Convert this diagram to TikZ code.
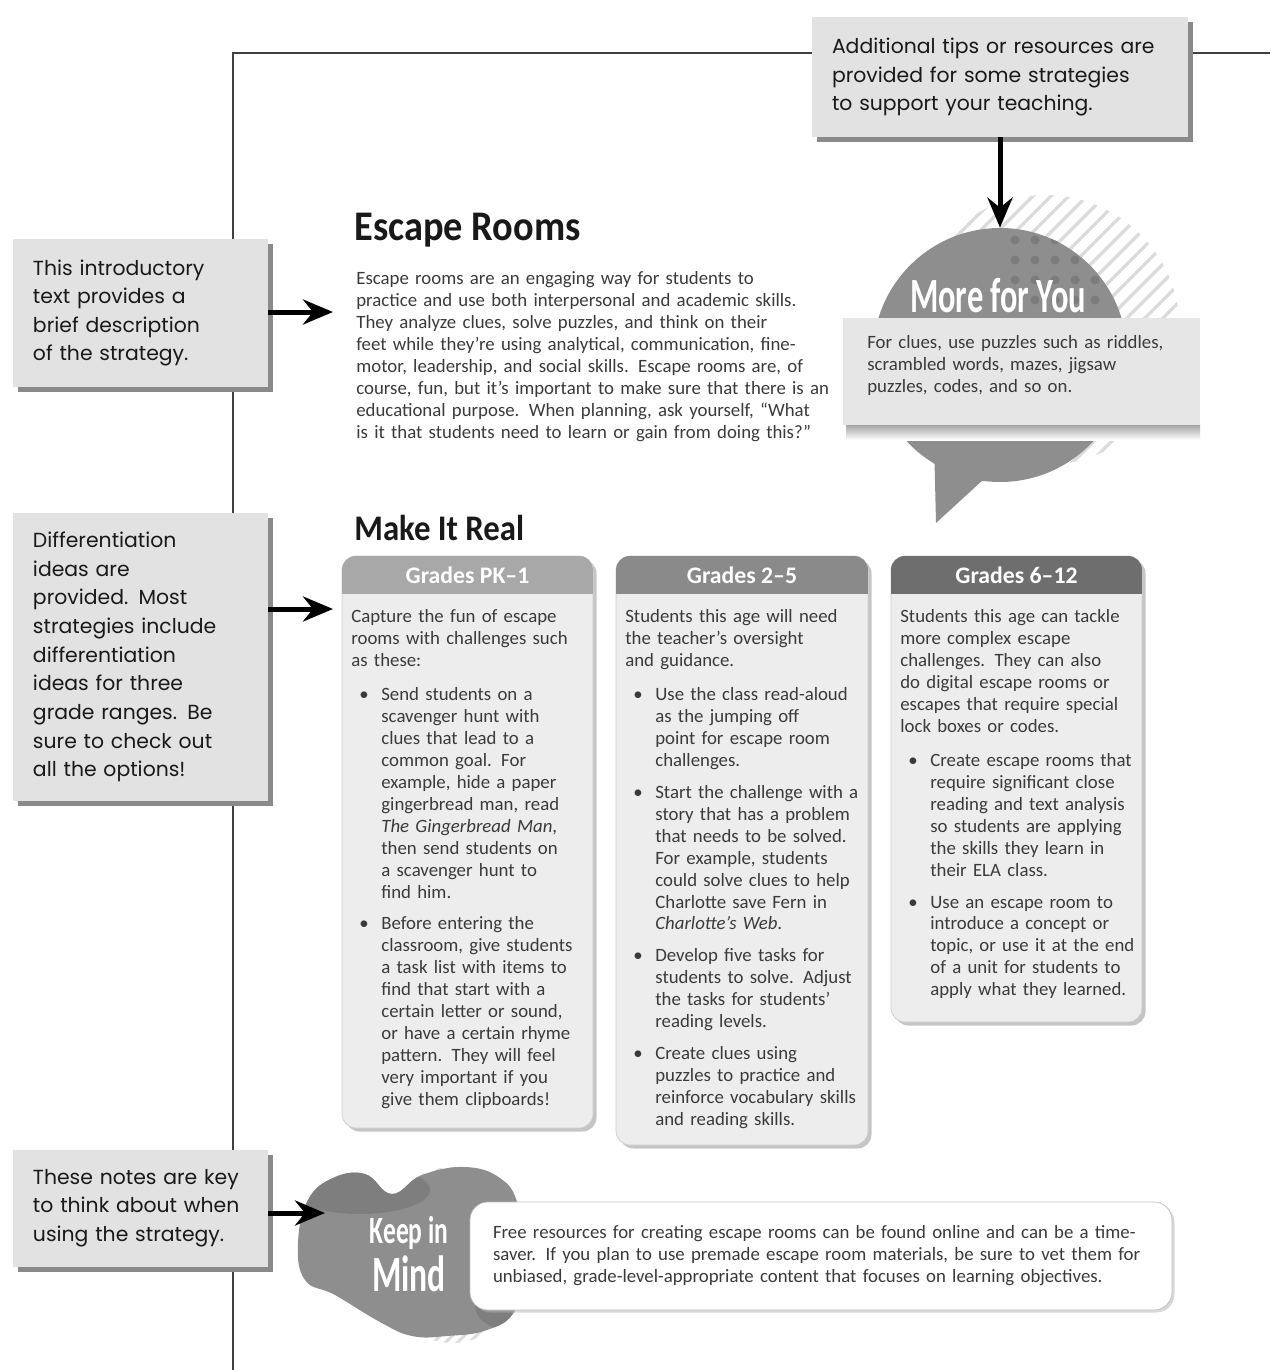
\documentclass[tikz,border=0pt]{standalone}
\usepackage{fontspec}
\usepackage{enumitem}
\setmainfont{Carlito}
\newfontfamily\notefont{Poppins}
\newfontfamily\titlefont[FakeStretch=0.91]{Carlito}
\newfontfamily\bannerfont[FakeStretch=0.66]{Carlito}
\usetikzlibrary{arrows.meta,positioning,shadows}

\definecolor{notegray}{HTML}{E2E2E2}
\definecolor{shadegray}{HTML}{8A8A8A}
\definecolor{inkgray}{HTML}{3A3A3A}
\definecolor{colfill}{HTML}{EDEDED}
\definecolor{headA}{HTML}{A8A8A8}
\definecolor{headB}{HTML}{8A8A8A}
\definecolor{headC}{HTML}{6E6E6E}
\definecolor{bubble}{HTML}{8E8E8E}
\definecolor{dotgray}{HTML}{7C7C7C}
\definecolor{stripe}{HTML}{DCDCDC}
\definecolor{ribbon}{HTML}{E6E6E6}
\definecolor{blobdark}{HTML}{7E7E7E}

\setlist[itemize]{label=\textbullet, leftmargin=6mm, labelsep=2.5mm,
  itemsep=2mm, parsep=0pt, topsep=2.4mm, partopsep=0pt}

\tikzset{>={Stealth[length=6mm,width=5mm,inset=2mm]}}

\begin{document}
\begin{tikzpicture}[x=0.2mm,y=-0.2mm]
	\tikzset{note/.style={fill=notegray, text=black!90, align=left, inner xsep=4mm, inner ysep=0pt,
			font=\notefont\fontsize{11.6}{16.3}\selectfont,
			general shadow={fill=shadegray, shadow xshift=1mm, shadow yshift=-1mm}},
		pointer/.style={->, line width=1mm},
		frame/.style={draw=black!75, line width=0.4mm},
		body/.style={text=inkgray, align=left, inner sep=0pt, font=\fontsize{10.7}{12.5}\selectfont},
		heading/.style={anchor=west, inner sep=0pt, text=black!90},
		column/.style={fill=colfill, draw=black!20, rounded corners=2.8mm,
			drop shadow={shadow xshift=0.7mm, shadow yshift=-0.7mm, fill=black!45}},
		grade/.style={text=white, font=\bfseries\fontsize{13.5}{13.5}\selectfont},
		banner/.style={text=white, inner sep=0pt},
		keepbox/.style={fill=white, draw=black!25, rounded corners=3.6mm, align=left, inner xsep=4.6mm,
			text=inkgray, font=\fontsize{10.7}{12.5}\selectfont,
			drop shadow={shadow xshift=0.5mm, shadow yshift=-0.5mm, fill=black!30}},
	}
	\useasboundingbox (0,0) rectangle (1270,1370);
	% page frame
	\draw[frame] (233,1370) -- (233,53) -- (1270,53);
	% side notes
	\node[note, text width=67.2mm, minimum height=24mm] (tips) at (1000,77)
		{Additional tips or resources~are\\provided for some strategies\\to support your teaching.};
	\node[note, text width=43mm, minimum height=29.6mm] (intro) at (140.5,313)
		{This introductory\\text provides a\\brief description\\of the strategy.};
	\node[note, text width=43mm, minimum height=57.6mm] (diff) at (140.5,657)
		{Differentiation\\ideas are\\provided. Most\\strategies include\\differentiation\\ideas for three\\grade ranges. Be\\sure to check out\\all the options!};
	\node[note, text width=43mm, minimum height=23.4mm] (keys) at (140.5,1208)
		{These notes are key\\to think about when\\using the strategy.};
	% title and description
	\node[heading, font=\titlefont\bfseries\fontsize{24}{24}\selectfont] (title) at (354,230) {Escape Rooms};
	\node[body, anchor=north west, text width=100mm] (desc) at (356,271)
		{Escape rooms are an engaging way for students to\\
		practice and use both interpersonal and academic skills.\\
		They analyze clues, solve puzzles, and think on their\\
		feet while they're using analytical, communication, fine-\\
		motor, leadership, and social skills. Escape rooms are, of\\
		course, fun, but it's important to make sure that there is an\\
		educational purpose. When planning, ask yourself, ``What\\
		is it that students need to learn or gain from doing this?''};
	% more for you bubble
	\begin{scope}
		\clip (1045,330) circle (135);
		\foreach \k in {-380,-362,...,380}
			\draw[stripe, line width=0.7mm] ({845+\k},530) -- ({1245+\k},130);
	\end{scope}
	\node[circle, fill=bubble, minimum size=50.8mm, inner sep=0pt] (more) at (1000,355) {};
	\fill[bubble] (934,440) -- (936,523) -- (996,468) -- cycle;
	\begin{scope}
		\clip (1000,355) circle (127);
		\foreach \i in {0,...,4}
			\foreach \j in {0,...,3}
				\fill[dotgray] ({1015+20*\i},{240+20*\j}) circle (4.5);
	\end{scope}
	\node[banner, font=\bannerfont\bfseries\fontsize{28}{28}\selectfont] (moreLabel) at (998,296) {More for You};
	\shade[top color=black!35, bottom color=white] (846,425) rectangle (1200,440);
	\node[fill=ribbon, minimum width=71.4mm, minimum height=21.4mm, inner sep=0pt] (band) at (1021.5,371.5) {};
	\node[body, anchor=north west, text width=70mm] (bandText) at (867,335)
		{For clues, use puzzles such as riddles,\\scrambled words, mazes, jigsaw\\puzzles, codes, and so on.};
	% make it real
	\node[heading, font=\titlefont\bfseries\fontsize{20.5}{20.5}\selectfont] (real) at (354,528) {Make It Real};
	% column PK-1
	\path[column] (342,556) rectangle (593,1128);
	\begin{scope}
		\clip[rounded corners=2.8mm] (342,556) rectangle (593,1128);
		\fill[headA] (342,556) rectangle (593,594);
	\end{scope}
	\node[grade] (gradeA) at (467.5,575) {Grades PK--1};
	\node[body, anchor=north west, text width=56mm] (colA) at (351,609)
		{Capture the fun of escape\\rooms with challenges such\\as these:
		\begin{itemize}
			\item Send students on a\\scavenger hunt with\\clues that lead to a\\common goal. For\\example, hide a paper\\gingerbread man, read\\\textit{The Gingerbread Man},\\then send students on\\a scavenger hunt to\\find him.
			\item Before entering the\\classroom, give students\\a task list with items to\\find that start with a\\certain letter or sound,\\or have a certain rhyme\\pattern. They will feel\\very important if you\\give them clipboards!
		\end{itemize}};
	% column 2-5
	\path[column] (616,556) rectangle (868,1145);
	\begin{scope}
		\clip[rounded corners=2.8mm] (616,556) rectangle (868,1145);
		\fill[headB] (616,556) rectangle (868,594);
	\end{scope}
	\node[grade] (gradeB) at (742,575) {Grades 2--5};
	\node[body, anchor=north west, text width=56mm] (colB) at (625,609)
		{Students this age will need\\the teacher's oversight\\and guidance.
		\begin{itemize}
			\item Use the class read-aloud\\as the jumping off\\point for escape room\\challenges.
			\item Start the challenge with a\\story that has a problem\\that needs to be solved.\\For example, students\\could solve clues to help\\Charlotte save Fern in\\\textit{Charlotte's Web}.
			\item Develop five tasks for\\students to solve. Adjust\\the tasks for students'\\reading levels.
			\item Create clues using\\puzzles to practice and\\reinforce vocabulary skills\\and reading skills.
		\end{itemize}};
	% column 6-12
	\path[column] (891,556) rectangle (1142,1022);
	\begin{scope}
		\clip[rounded corners=2.8mm] (891,556) rectangle (1142,1022);
		\fill[headC] (891,556) rectangle (1142,594);
	\end{scope}
	\node[grade] (gradeC) at (1016.5,575) {Grades 6--12};
	\node[body, anchor=north west, text width=56mm] (colC) at (900,609)
		{Students this age can tackle\\more complex escape\\challenges. They can also\\do digital escape rooms or\\escapes that require special\\lock boxes or codes.
		\begin{itemize}
			\item Create escape rooms that\\require significant close\\reading and text analysis\\so students are applying\\the skills they learn in\\their ELA class.
			\item Use an escape room to\\introduce a concept or\\topic, or use it at the end\\of a unit for students to\\apply what they learned.
		\end{itemize}};
	% keep in mind blob
	\begin{scope}
		\clip (452,1255) ellipse [x radius=75, y radius=88];
		\foreach \k in {-260,-248,...,260}
			\draw[stripe, line width=0.6mm] ({300+\k},1400) -- ({600+\k},1100);
	\end{scope}
	\begin{scope}
		\clip plot[smooth cycle, tension=0.7] coordinates {(298,1243) (308,1200) (333,1178) (365,1174) (392,1194)
			(422,1175) (465,1167) (500,1178) (518,1205) (525,1260) (515,1310) (487,1330) (447,1336)
			(412,1336) (380,1322) (335,1295) (305,1280)};
		\fill[bubble] (290,1160) rectangle (530,1345);
		\fill[blobdark] (360,1190) ellipse [x radius=70, y radius=24];
		\fill[blobdark] (505,1305) ellipse [x radius=30, y radius=24];
	\end{scope}
	\node[banner, align=center, font=\bannerfont\bfseries\fontsize{22}{27}\selectfont] (keepLabel) at (409,1254)
		{Keep in\\{\fontsize{29}{29}\selectfont Mind}};
	\node[keepbox, text width=131.2mm, minimum height=21.6mm] (keepNote) at (821,1256)
		{Free resources for creating escape rooms can be found online and can be a time-\\
		saver. If you plan to use premade escape room materials, be sure to vet them for\\
		unbiased, grade-level-appropriate content that focuses on learning objectives.};
	% pointers
	\coordinate (introTip) at (333,312);
	\coordinate (diffTip) at (333,609);
	\coordinate (keysTip) at (325,1213);
	\draw[pointer] (intro.east |- introTip) -- (introTip);
	\draw[pointer] (diff.east |- diffTip) -- (diffTip);
	\draw[pointer] (keys.east |- keysTip) -- (keysTip);
	\draw[pointer] (tips.south) -- (more.north);
\end{tikzpicture}
\end{document}
